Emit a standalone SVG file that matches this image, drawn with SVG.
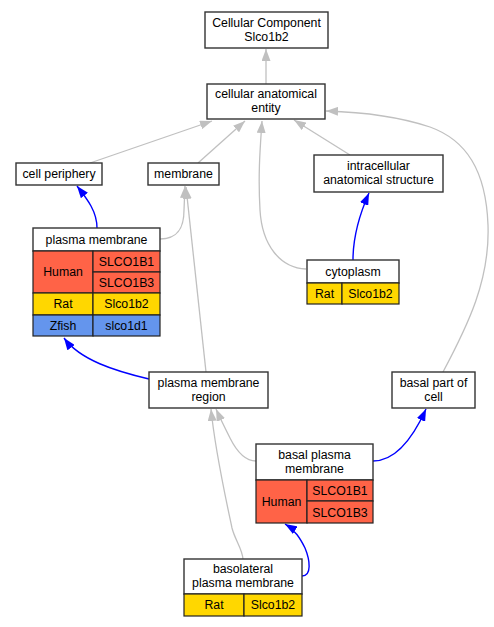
<svg xmlns="http://www.w3.org/2000/svg" width="494" height="627" viewBox="0 0 494 627">
<style>
text{font-family:"Liberation Sans",Arial,sans-serif;font-size:12.3px;fill:#000;text-anchor:middle}
.box{fill:#fff;stroke:#333;stroke-width:1.4}
.cell{stroke:#222;stroke-width:1.2}
.hu{fill:#ff6347}
.rat{fill:#ffd700}
.zf{fill:#6495ed}
.g{fill:none;stroke:#c0c0c0;stroke-width:1.3}
.b{fill:none;stroke:#0000ff;stroke-width:1.4}
</style>
<defs>
<marker id="ag" viewBox="0 0 12 9" refX="12" refY="4.5" markerWidth="12" markerHeight="9" markerUnits="userSpaceOnUse" orient="auto"><path d="M0,0 L12,4.5 L0,9 z" fill="#c0c0c0"/></marker>
<marker id="ab" viewBox="0 0 12 9" refX="12" refY="4.5" markerWidth="12" markerHeight="9" markerUnits="userSpaceOnUse" orient="auto"><path d="M0,0 L12,4.5 L0,9 z" fill="#0000ff"/></marker>
</defs>
<rect width="494" height="627" fill="#fff"/>
<g id="connectors">
<path class="g" marker-end="url(#ag)" d="M266,84 L266,49"/>
<path class="g" marker-end="url(#ag)" d="M90,163 L212,121"/>
<path class="g" marker-end="url(#ag)" d="M198,163 L245,121"/>
<path class="g" marker-end="url(#ag)" d="M306,269 C280,268 262,245 260,210 C258,175 260,150 262,121"/>
<path class="g" marker-end="url(#ag)" d="M350,155 L294,120"/>
<path class="g" marker-end="url(#ag)" d="M443,372 C468,325 490,280 488,225 C486,170 466,140 430,127 C400,117 360,112 326,111"/>
<path class="b" marker-end="url(#ab)" d="M97,228 C97,212 88,200 77,186"/>
<path class="g" marker-end="url(#ag)" d="M160,239 C180,239 184,225 184,210 L185,186"/>
<path class="g" marker-end="url(#ag)" d="M206,372 L186,187"/>
<path class="b" marker-end="url(#ab)" d="M149,379 C115,371 80,360 64,338"/>
<path class="b" marker-end="url(#ab)" d="M353,260 C353,240 357,220 369,193"/>
<path class="g" marker-end="url(#ag)" d="M256,461 C245,461 236,450 230,438 C225,428 220,418 216,409"/>
<path class="g" marker-end="url(#ag)" d="M243,559 C242,548 235,540 232,528 C225,495 215,450 211,409"/>
<path class="b" marker-end="url(#ab)" d="M373,461 C395,461 412,440 426,409"/>
<path class="b" marker-end="url(#ab)" d="M302,576 C312,576 310,560 305,548 C300,538 295,530 285,524"/>
</g>
<g id="cc">
<rect class="box" x="205" y="12" width="123" height="36"/>
<text x="266.5" y="26.7">Cellular Component</text>
<text x="266.5" y="40.5">Slco1b2</text>
</g>
<g id="cae">
<rect class="box" x="207" y="84" width="118" height="35"/>
<text x="266" y="98.2">cellular anatomical</text>
<text x="266" y="112">entity</text>
</g>
<g id="cell-periphery">
<rect class="box" x="16" y="163" width="86" height="22"/>
<text x="59" y="178.3">cell periphery</text>
</g>
<g id="membrane">
<rect class="box" x="148" y="163" width="71" height="22"/>
<text x="183.5" y="178.3">membrane</text>
</g>
<g id="intracellular">
<rect class="box" x="314" y="155" width="129" height="37"/>
<text x="378.5" y="170.2">intracellular</text>
<text x="378.5" y="184">anatomical structure</text>
</g>
<g id="plasma-membrane">
<rect class="box" x="33" y="228" width="127" height="23"/>
<text x="96.5" y="244">plasma membrane</text>
<rect class="cell hu" x="33" y="251" width="60" height="42"/>
<rect class="cell hu" x="93" y="251" width="67" height="21"/>
<rect class="cell hu" x="93" y="272" width="67" height="21"/>
<rect class="cell rat" x="33" y="293" width="60" height="22"/>
<rect class="cell rat" x="93" y="293" width="67" height="22"/>
<rect class="cell zf" x="33" y="315" width="60" height="21"/>
<rect class="cell zf" x="93" y="315" width="67" height="21"/>
<text x="63" y="276.3">Human</text>
<text x="126.5" y="266">SLCO1B1</text>
<text x="126.5" y="287">SLCO1B3</text>
<text x="63" y="308.3">Rat</text>
<text x="126.5" y="308.3">Slco1b2</text>
<text x="63" y="330">Zfish</text>
<text x="126.5" y="330">slco1d1</text>
</g>
<g id="cytoplasm">
<rect class="box" x="307" y="260" width="92" height="23"/>
<text x="353" y="276">cytoplasm</text>
<rect class="cell rat" x="307" y="283" width="35" height="21"/>
<rect class="cell rat" x="342" y="283" width="57" height="21"/>
<text x="324.5" y="298">Rat</text>
<text x="370.5" y="298">Slco1b2</text>
</g>
<g id="plasma-membrane-region">
<rect class="box" x="149" y="372" width="119" height="36"/>
<text x="208.5" y="386.7">plasma membrane</text>
<text x="208.5" y="400.5">region</text>
</g>
<g id="basal-part-of-cell">
<rect class="box" x="392" y="372" width="83" height="36"/>
<text x="433.5" y="386.7">basal part of</text>
<text x="433.5" y="400.5">cell</text>
</g>
<g id="basal-plasma-membrane">
<rect class="box" x="256" y="444" width="117" height="36"/>
<text x="314.5" y="458.7">basal plasma</text>
<text x="314.5" y="472.5">membrane</text>
<rect class="cell hu" x="256" y="480" width="51" height="43"/>
<rect class="cell hu" x="307" y="480" width="66" height="21"/>
<rect class="cell hu" x="307" y="501" width="66" height="22"/>
<text x="281.5" y="506">Human</text>
<text x="340" y="495">SLCO1B1</text>
<text x="340" y="516.5">SLCO1B3</text>
</g>
<g id="basolateral-plasma-membrane">
<rect class="box" x="184" y="559" width="118" height="35"/>
<text x="243" y="573.2">basolateral</text>
<text x="243" y="587">plasma membrane</text>
<rect class="cell rat" x="184" y="594" width="60" height="22"/>
<rect class="cell rat" x="244" y="594" width="58" height="22"/>
<text x="214" y="609.3">Rat</text>
<text x="273" y="609.3">Slco1b2</text>
</g>
</svg>
